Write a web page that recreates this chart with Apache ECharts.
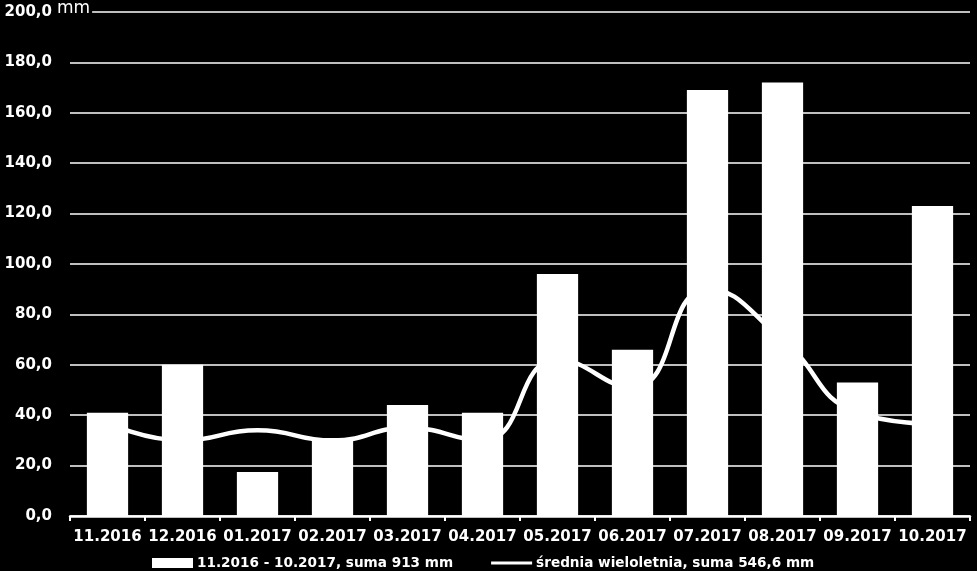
<!DOCTYPE html>
<html>
<head>
<meta charset="utf-8">
<script src="https://cdn.jsdelivr.net/npm/echarts@6/dist/echarts.min.js"></script>
<style>
html,body{margin:0;padding:0;background:#000;}
#chart{width:977px;height:571px;}
</style>
</head>
<body>
<div id="chart"></div>
<script>
const categories = ['11.2016','12.2016','01.2017','02.2017','03.2017','04.2017','05.2017','06.2017','07.2017','08.2017','09.2017','10.2017'];
const monthlySum = [41, 60, 17.5, 31, 44, 41, 96, 66, 169, 172, 53, 123];
const longTermAvg = [37, 30, 34, 30, 35, 30, 62, 51, 90, 70, 41, 36.5];
const barName = '11.2016 - 10.2017, suma 913 mm';
const lineName = 'średnia wieloletnia, suma 546,6 mm';
const unitLabel = 'mm';

const chart = echarts.init(document.getElementById('chart'));
chart.setOption({
  backgroundColor: '#000',
  animation: false,
  grid: {left: 70, right: 7, top: 12, bottom: 55, containLabel: false},
  legend: {
    left: 147, top: 551,
    itemGap: 38, itemWidth: 41, itemHeight: 10,
    symbolKeepAspect: false,
    textStyle: {color: '#fff', fontFamily: 'DejaVu Sans', fontWeight: 'bold', fontSize: 13.6, padding: [0,0,0,-1]},
    data: [
      {name: barName, icon: 'rect'},
      {name: lineName, icon: 'path://M0,0L0.01,0M0,3.6L41,3.6L41,6.4L0,6.4ZM0,10L0.01,10',
       itemStyle: {color: '#fff', borderWidth: 0}}
    ]
  },
  graphic: [{
    type: 'text', left: 57, top: 0,
    style: {text: unitLabel, fill: '#fff', font: '17px "DejaVu Sans"', backgroundColor: '#000', padding: [0, 2, 0, 0]},
    z: 100
  }],
  xAxis: {
    type: 'category',
    data: categories,
    axisLine: {lineStyle: {color: '#fff', width: 2.5}},
    axisTick: {show: true, length: 5, lineStyle: {color: '#fff', width: 2}},
    axisLabel: {color: '#fff', fontFamily: 'DejaVu Sans', fontWeight: 'bold', fontSize: 15, margin: 14, interval: 0}
  },
  yAxis: {
    type: 'value', min: 0, max: 200, interval: 20,
    axisLine: {show: false}, axisTick: {show: false},
    axisLabel: {
      color: '#fff', fontFamily: 'DejaVu Sans', fontWeight: 'bold', fontSize: 15, margin: 18,
      formatter: v => v.toFixed(1).replace('.', ',')
    },
    splitLine: {lineStyle: {color: '#fff', width: 1.5}}
  },
  series: [
    {
      name: lineName, type: 'line', data: longTermAvg, smooth: true,
      symbol: 'none', z: 1,
      lineStyle: {color: '#fff', width: 4.5},
      itemStyle: {color: '#fff'}
    },
    {
      name: barName, type: 'bar', data: monthlySum, barWidth: '55%', z: 2,
      itemStyle: {color: '#fff'}
    }
  ]
});
</script>
</body>
</html>
